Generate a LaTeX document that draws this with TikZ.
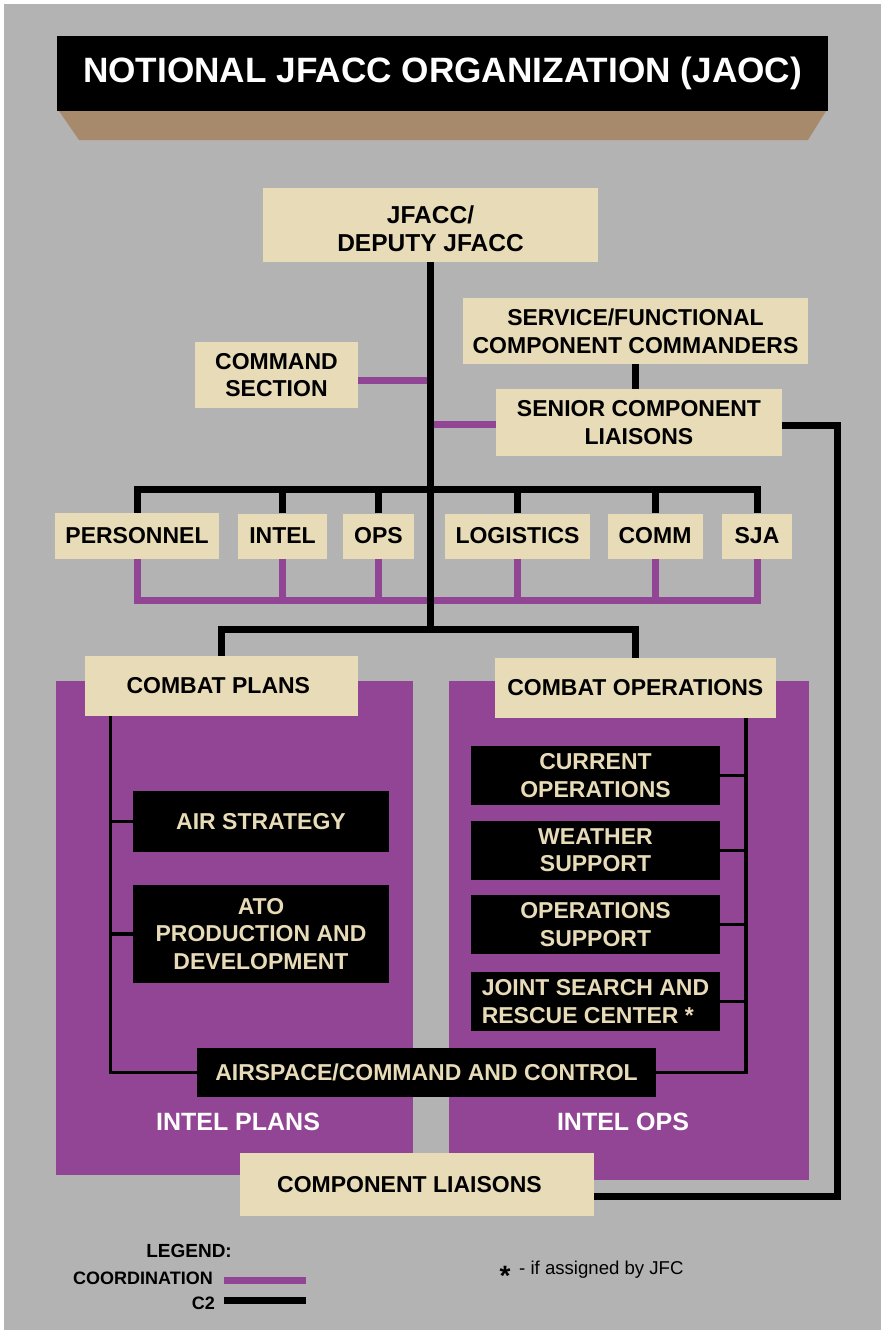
\documentclass[tikz,border=0pt]{standalone}
\usepackage{fontspec}
\setmainfont{Liberation Sans}
\usetikzlibrary{positioning}
\definecolor{jaocbeige}{HTML}{E8DBB7}
\definecolor{jaocpurple}{HTML}{924495}
\definecolor{jaocgray}{HTML}{B3B3B3}
\definecolor{jaocbrown}{HTML}{A78A6B}
\newcommand{\boxfont}{\bfseries\fontsize{23}{27.7}\selectfont}
\tikzset{tan box/.style={fill=jaocbeige, text=black, inner sep=0pt, align=center, font=\boxfont}, }
\tikzset{dark box/.style={fill=black, text=jaocbeige, inner sep=0pt, align=center, font=\boxfont}, }
\tikzset{c2 line/.style={draw=black, line width=7pt}, }
\tikzset{c2 thin/.style={draw=black, line width=3.5pt}, }
\tikzset{coord line/.style={draw=jaocpurple, line width=7pt}, }

\begin{document}
\begin{tikzpicture}[x=1pt, y=-1pt]
	\fill[white] (0,0) rectangle (881,1330);
	\fill[jaocgray] (4,4) rectangle (881,1330);
	\useasboundingbox (0,0) rectangle (881,1330);
	% title
	\fill[jaocbrown] (59,111) -- (826,111) -- (808,140) -- (79,140) -- cycle;
	\node[fill=black, text=white, inner sep=0pt, minimum width=771, minimum height=75,
		font=\bfseries\fontsize{35.2}{35.2}\selectfont] (title) at (442.5,73.5) {NOTIONAL JFACC ORGANIZATION (JAOC)};
	% panels
	\fill[jaocpurple] (56,681) rectangle (413,1175);
	\fill[jaocpurple] (449,681) rectangle (809,1180);
	\node[text=white, inner sep=0pt, font=\bfseries\fontsize{25}{25}\selectfont] (intelplans) at (238,1122) {INTEL PLANS};
	\node[text=white, inner sep=0pt, font=\bfseries\fontsize{25}{25}\selectfont] (intelops) at (623,1122) {INTEL OPS};
	% upper boxes
	\node[tan box, minimum width=335, minimum height=74, text height=54pt, font=\bfseries\fontsize{24.5}{28}\selectfont] (jfacc) at (430.5,225) {JFACC/\\DEPUTY JFACC};
	\node[tan box, minimum width=345, minimum height=66] (sfcc) at (635.5,331) {SERVICE/FUNCTIONAL\\COMPONENT COMMANDERS};
	\node[tan box, minimum width=286, minimum height=67] (scl) at (639,422.5) {SENIOR COMPONENT\\LIAISONS};
	\node[tan box, minimum width=163, minimum height=66] (cmdsec) at (276.5,375) {COMMAND\\SECTION};
	% staff row
	\node[tan box, minimum width=164, minimum height=46] (personnel) at (137,536) {PERSONNEL};
	\node[tan box, minimum width=89, minimum height=45] (intel) at (282.5,536) {INTEL};
	\node[tan box, minimum width=71, minimum height=45] (ops) at (378.5,536) {OPS};
	\node[tan box, minimum width=145, minimum height=45] (logistics) at (517.5,536) {LOGISTICS};
	\node[tan box, minimum width=95, minimum height=45] (comm) at (655,536) {COMM};
	\node[tan box, minimum width=70, minimum height=45] (sja) at (757,536) {SJA};
	% combat plans / combat operations
	\node[tan box, minimum width=273, minimum height=60] (plans) at (221.3,686) {COMBAT PLANS\hspace*{6pt}};
	\node[tan box, minimum width=281, minimum height=60] (cops) at (635.3,687.8) {COMBAT OPERATIONS};
	\node[dark box, minimum width=256, minimum height=61] (airstrat) at (261,821.3) {AIR STRATEGY};
	\node[dark box, minimum width=256, minimum height=98] (ato) at (261,933.8) {ATO\\PRODUCTION AND\\DEVELOPMENT};
	\node[dark box, minimum width=249, minimum height=59] (curops) at (595.5,775.3) {CURRENT\\OPERATIONS};
	\node[dark box, minimum width=249, minimum height=59] (wx) at (595.5,850.3) {WEATHER\\SUPPORT};
	\node[dark box, minimum width=249, minimum height=59] (opsup) at (595.5,924.3) {OPERATIONS\\SUPPORT};
	\node[dark box, minimum width=249, minimum height=59, align=left] (jsrc) at (595.5,1001.3) {JOINT SEARCH AND\\RESCUE CENTER *};
	\node[dark box, minimum width=459, minimum height=49] (asc) at (426.5,1072.7) {AIRSPACE/COMMAND AND CONTROL};
	\node[tan box, minimum width=354, minimum height=63] (cl) at (416.5,1184.3) {COMPONENT LIAISONS\hspace*{14pt}};
	% coordination
	\coordinate (coordbus) at (0,600);
	\coordinate (cmdin) at ([yshift=-5]cmdsec.east);
	\coordinate (sclin) at ([yshift=-2]scl.west);
	\draw[coord line] (cmdin) -- (cmdin -| jfacc.south);
	\draw[coord line] (sclin) -- (sclin -| jfacc.south);
	\draw[coord line] (personnel.south) |- (sja.south |- coordbus) -- (sja.south);
	\foreach \n in {intel,ops,logistics,comm}
		\draw[coord line] (\n.south) -- (\n.south |- coordbus);
	% c2
	\coordinate (staffbus) at (0,489.5);
	\coordinate (plansbus) at (0,629.5);
	\coordinate (outer) at (837.5,0);
	\coordinate (clin) at ([yshift=-12.4]cl.east);
	\draw[c2 line] (jfacc.south) -- (jfacc.south |- plansbus);
	\draw[c2 line] (sfcc.south) -- (sfcc.south |- scl.north);
	\draw[c2 line] (personnel.north) |- (sja.north |- staffbus) -- (sja.north);
	\foreach \n in {intel,ops,logistics,comm}
		\draw[c2 line] (\n.north) -- (\n.north |- staffbus);
	\draw[c2 line] (plans.north) |- (cops.north |- plansbus) -- (cops.north);
	\draw[c2 line] ([yshift=-3]scl.east) -| (outer |- clin) -- (clin);
	% inside the panels
	\coordinate (pspine) at ([xshift=26]plans.south west);
	\coordinate (ospine) at ([xshift=-30]cops.south east);
	\draw[c2 thin] (pspine) |- (asc.west);
	\draw[c2 thin] (ospine) |- (asc.east);
	\foreach \n in {airstrat,ato}
		\draw[c2 thin] (\n.west) -- (\n.west -| pspine);
	\foreach \n in {curops,wx,opsup,jsrc}
		\draw[c2 thin] (\n.east) -- (\n.east -| ospine);
	% legend
	\node[anchor=east, inner sep=0pt, font=\bfseries\fontsize{19}{19}\selectfont] (legend) at (232,1251) {LEGEND:};
	\node[anchor=east, inner sep=0pt, font=\bfseries\fontsize{18}{18}\selectfont] (coordlbl) at (213,1278) {COORDINATION};
	\node[anchor=east, inner sep=0pt, font=\bfseries\fontsize{18}{18}\selectfont] (c2lbl) at (215,1303) {C2};
	\draw[coord line] ([xshift=11]coordlbl.east |- 0,1280) -- ++(82,0);
	\draw[c2 line] ([xshift=9]c2lbl.east |- 0,1300.3) -- ++(82,0);
	\node[anchor=north, inner sep=0pt, font=\bfseries\fontsize{28}{28}\selectfont] (star) at (505,1266.5) {*};
	\node[anchor=base west, inner sep=0pt, font=\fontsize{18.6}{18.6}\selectfont] (note) at (519,1274) {- if assigned by JFC};
\end{tikzpicture}
\end{document}
